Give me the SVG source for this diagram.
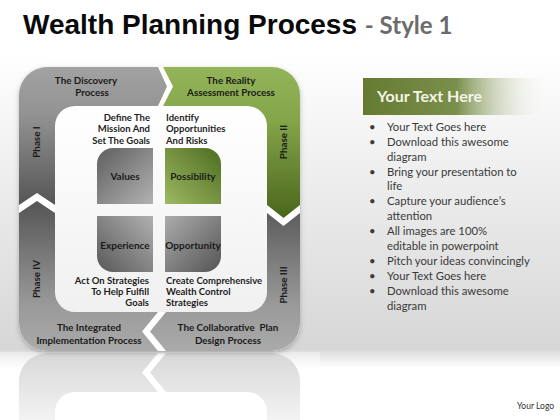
<svg xmlns="http://www.w3.org/2000/svg" width="560" height="420" viewBox="0 0 560 420">
<defs>
<style>
.lbl{font-family:Lato,"Liberation Sans",sans-serif;font-weight:bold;font-size:9.5px;fill:#1e1e1e}
.box{font-family:Lato,"Liberation Sans",sans-serif;font-weight:bold;font-size:10px;fill:#1a1a1a;text-anchor:middle}
.frm{font-family:Lato,"Liberation Sans",sans-serif;font-weight:bold;font-size:9.8px;fill:#1a1a1a;text-anchor:middle}
.bul{font-family:Lato,"Liberation Sans",sans-serif;font-size:11.3px;fill:#3a3a3a}
</style>
<linearGradient id="bg" x1="0" y1="50" x2="0" y2="352" gradientUnits="userSpaceOnUse">
<stop offset="0" stop-color="#ffffff"/><stop offset="1" stop-color="#d6d6d6"/>
</linearGradient>
<linearGradient id="bgEdge" x1="0" y1="350" x2="0" y2="368" gradientUnits="userSpaceOnUse">
<stop offset="0" stop-color="#dadada"/><stop offset="1" stop-color="#ffffff"/>
</linearGradient>
<linearGradient id="gI" x1="0" y1="67" x2="0" y2="205" gradientUnits="userSpaceOnUse">
<stop offset="0" stop-color="#a2a2a2"/><stop offset="0.35" stop-color="#929292"/><stop offset="1" stop-color="#555555"/>
</linearGradient>
<linearGradient id="gII" x1="0" y1="67" x2="0" y2="218" gradientUnits="userSpaceOnUse">
<stop offset="0" stop-color="#94b45a"/><stop offset="0.35" stop-color="#85a54a"/><stop offset="1" stop-color="#4a661c"/>
</linearGradient>
<linearGradient id="gIII" x1="0" y1="201" x2="0" y2="351" gradientUnits="userSpaceOnUse">
<stop offset="0" stop-color="#555555"/><stop offset="0.7" stop-color="#9a9a9a"/><stop offset="1" stop-color="#aaaaaa"/>
</linearGradient>
<linearGradient id="gInner" x1="0" y1="106" x2="0" y2="312" gradientUnits="userSpaceOnUse">
<stop offset="0" stop-color="#ffffff"/><stop offset="1" stop-color="#f0f0f0"/>
</linearGradient>
<linearGradient id="gVal" x1="0" y1="0" x2="1" y2="1">
<stop offset="0" stop-color="#5e5e5e"/><stop offset="1" stop-color="#b2b2b2"/>
</linearGradient>
<linearGradient id="gPos" x1="1" y1="0" x2="0" y2="1">
<stop offset="0" stop-color="#4e6c21"/><stop offset="1" stop-color="#9cba60"/>
</linearGradient>
<linearGradient id="gExp" x1="0" y1="1" x2="1" y2="0">
<stop offset="0" stop-color="#585858"/><stop offset="1" stop-color="#b0b0b0"/>
</linearGradient>
<linearGradient id="gOpp" x1="1" y1="1" x2="0" y2="0">
<stop offset="0" stop-color="#545454"/><stop offset="1" stop-color="#acacac"/>
</linearGradient>
<linearGradient id="gBanner" x1="0" y1="0" x2="1" y2="0">
<stop offset="0" stop-color="#657a31"/><stop offset="0.5" stop-color="#7b8f4c"/><stop offset="1" stop-color="#ffffff" stop-opacity="0"/>
</linearGradient>
<linearGradient id="gFade" x1="0" y1="352" x2="0" y2="420" gradientUnits="userSpaceOnUse">
<stop offset="0" stop-color="#ffffff" stop-opacity="0.35"/><stop offset="1" stop-color="#ffffff" stop-opacity="0.8"/>
</linearGradient>
<filter id="sh" x="-10%" y="-10%" width="120%" height="120%">
<feDropShadow dx="0" dy="2" stdDeviation="2.5" flood-color="#000" flood-opacity="0.25"/>
</filter>
<path id="pI" d="M19,205 V95 A28,28 0 0 1 47,67 H158 L167,86.5 L158,106 H75 A20,20 0 0 0 55,126 V205 L37,193 Z"/>
<path id="pII" d="M163,67 H272 A28,28 0 0 1 300,95 V205 L283.5,218 L267,205 V126 A20,20 0 0 0 247,106 H163 L173,86.5 Z"/>
<path id="pIII" d="M267,213 L283.5,226 L300,213 V323 A28,28 0 0 1 272,351 H166 L150,331.5 L166,312 H247 A20,20 0 0 0 267,292 Z"/>
<path id="pIV" d="M158,312 L142,331.5 L158,351 H47 A28,28 0 0 1 19,323 V213 L37,201 L55,213 V292 A20,20 0 0 0 75,312 Z"/>
</defs>

<!-- background -->
<rect x="0" y="0" width="560" height="420" fill="#ffffff"/>
<rect x="0" y="40" width="560" height="312" fill="url(#bg)"/>
<rect x="0" y="350" width="560" height="18" fill="url(#bgEdge)"/>

<!-- title -->
<text x="23" y="34" font-family="'Liberation Sans',Arial,sans-serif" font-weight="bold" font-size="28" fill="#0a0a0a">Wealth Planning Process <tspan font-family="Lato,'Liberation Sans',sans-serif" font-size="24" fill="#6b6b6b">- Style 1</tspan></text>

<!-- reflection -->
<g id="reflection" transform="matrix(1 0 0 -1 0 704)">
<rect x="19" y="67" width="281" height="284" rx="28" fill="#ffffff"/>
<use href="#pI" fill="#c2c2c2"/>
<use href="#pII" fill="#c2c2c2"/>
<use href="#pIII" fill="#c2c2c2"/>
<use href="#pIV" fill="#c2c2c2"/>
</g>
<rect x="0" y="352" width="320" height="68" fill="url(#gFade)"/>

<!-- frame base -->
<g filter="url(#sh)">
<rect x="19" y="67" width="281" height="284" rx="28" fill="#ffffff"/>
</g>
<rect x="55" y="106" width="212" height="206" rx="20" fill="url(#gInner)"/>

<g id="phase1">
<use href="#pI" fill="url(#gI)"/>
<text class="frm" x="86" y="84">The Discovery</text>
<text class="frm" x="92" y="96">Process</text>
<text class="frm" transform="translate(40,142) rotate(-90)">Phase I</text>
</g>
<g id="phase2">
<use href="#pII" fill="url(#gII)"/>
<text class="frm" x="231" y="84">The Reality</text>
<text class="frm" x="231" y="96">Assessment Process</text>
<text class="frm" transform="translate(287,142) rotate(-90)">Phase II</text>
</g>
<g id="phase3">
<use href="#pIII" fill="url(#gIII)"/>
<text class="frm" x="228" y="331" xml:space="preserve">The Collaborative  Plan</text>
<text class="frm" x="228" y="344">Design Process</text>
<text class="frm" transform="translate(287,285) rotate(-90)">Phase III</text>
</g>
<g id="phase4">
<use href="#pIV" fill="url(#gIII)"/>
<text class="frm" x="89" y="331">The Integrated</text>
<text class="frm" x="89" y="344">Implementation Process</text>
<text class="frm" transform="translate(40,279) rotate(-90)">Phase IV</text>
</g>

<!-- quadrants -->
<g id="values">
<path d="M97,204 V164 A16,16 0 0 1 113,148 H153 V204 Z" fill="url(#gVal)"/>
<text class="box" x="125" y="180">Values</text>
</g>
<g id="possibility">
<path d="M165,148 H205 A16,16 0 0 1 221,164 V204 H165 Z" fill="url(#gPos)"/>
<text class="box" x="193" y="180">Possibility</text>
</g>
<g id="experience">
<path d="M97,216 H153 V272 H113 A16,16 0 0 1 97,256 Z" fill="url(#gExp)"/>
<text class="box" x="125" y="249">Experience</text>
</g>
<g id="opportunity">
<path d="M165,216 H221 V256 A16,16 0 0 1 205,272 H165 Z" fill="url(#gOpp)"/>
<text class="box" x="193" y="249">Opportunity</text>
</g>

<!-- corner notes -->
<g id="note-tl">
<text class="lbl" x="150" y="121" text-anchor="end">Define The</text>
<text class="lbl" x="150" y="132" text-anchor="end">Mission And</text>
<text class="lbl" x="150" y="144" text-anchor="end">Set The Goals</text>
</g>
<g id="note-tr">
<text class="lbl" x="166" y="121">Identify</text>
<text class="lbl" x="166" y="132">Opportunities</text>
<text class="lbl" x="166" y="144">And Risks</text>
</g>
<g id="note-bl">
<text class="lbl" x="149" y="284" text-anchor="end">Act On Strategies</text>
<text class="lbl" x="149" y="295" text-anchor="end">To Help Fulfill</text>
<text class="lbl" x="149" y="306" text-anchor="end">Goals</text>
</g>
<g id="note-br">
<text class="lbl" x="166" y="284">Create Comprehensive</text>
<text class="lbl" x="166" y="295">Wealth Control</text>
<text class="lbl" x="166" y="306">Strategies</text>
</g>

<!-- right panel -->
<g id="panel">
<rect x="363" y="78" width="187" height="37" fill="url(#gBanner)"/>
<text x="377" y="102" font-family="Lato,'Liberation Sans',sans-serif" font-weight="bold" font-size="16" fill="#f3f5e8">Your Text Here</text>
<text class="bul" x="369" y="131">•</text><text class="bul" x="387" y="131">Your Text Goes here</text>
<text class="bul" x="369" y="146">•</text><text class="bul" x="387" y="146">Download this awesome</text>
<text class="bul" x="387" y="161">diagram</text>
<text class="bul" x="369" y="176">•</text><text class="bul" x="387" y="176">Bring your presentation to</text>
<text class="bul" x="387" y="190">life</text>
<text class="bul" x="369" y="205">•</text><text class="bul" x="387" y="205">Capture your audience’s</text>
<text class="bul" x="387" y="220">attention</text>
<text class="bul" x="369" y="235">•</text><text class="bul" x="387" y="235">All images are 100%</text>
<text class="bul" x="387" y="250">editable in powerpoint</text>
<text class="bul" x="369" y="265">•</text><text class="bul" x="387" y="265">Pitch your ideas convincingly</text>
<text class="bul" x="369" y="280">•</text><text class="bul" x="387" y="280">Your Text Goes here</text>
<text class="bul" x="369" y="295">•</text><text class="bul" x="387" y="295">Download this awesome</text>
<text class="bul" x="387" y="310">diagram</text>
</g>

<text x="517" y="409" font-family="Lato,'Liberation Sans',sans-serif" font-size="8.5" fill="#333333">Your Logo</text>
</svg>
